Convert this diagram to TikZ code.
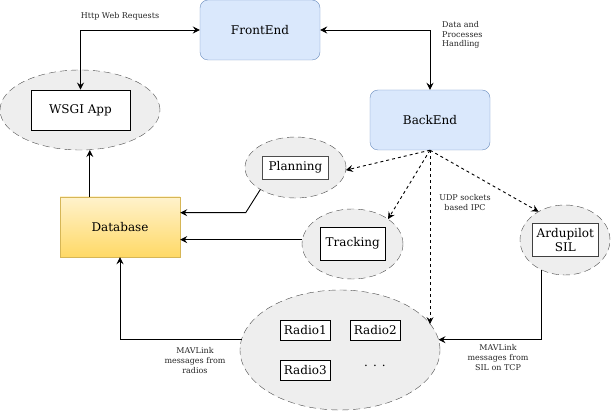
\documentclass[tikz,border=0pt]{standalone}
\usepackage{fontspec}
\setmainfont{DejaVu Serif}
\usetikzlibrary{arrows.meta,shapes.geometric,calc}
\definecolor{feFill}{HTML}{DAE8FC}
\definecolor{feDraw}{HTML}{6C8EBF}
\definecolor{dbTop}{HTML}{FFF2CC}
\definecolor{dbBot}{HTML}{FFD966}
\definecolor{dbDraw}{HTML}{D6B656}
\definecolor{ellFill}{HTML}{EEEEEE}
\definecolor{ellDraw}{HTML}{4D4D4D}
\tikzset{
  bigtxt/.style={font=\fontsize{12}{13.5}\selectfont},
  smalltxt/.style={font=\fontsize{8}{9.8}\selectfont, text=black!85, inner sep=0pt},
  bluebox/.style={draw=feDraw, fill=feFill, rounded corners=8pt, minimum width=120pt, minimum height=60pt, inner sep=0pt, bigtxt},
  ellnode/.style={ellipse, draw=ellDraw, fill=ellFill, dash pattern=on 7pt off 4pt, inner sep=0pt, outer sep=0pt},
  inbox/.style={draw=black, fill=white, line width=0.9pt, inner sep=0pt, bigtxt, align=center},
  arr/.style={draw=black, line width=0.9pt, -{Stealth[length=7pt,width=7pt,inset=2.5pt]}},
  biarr/.style={draw=black, line width=0.9pt, {Stealth[length=7pt,width=7pt,inset=2.5pt]}-{Stealth[length=7pt,width=7pt,inset=2.5pt]}},
  dasharr/.style={draw=black, line width=0.9pt, dash pattern=on 3pt off 3pt, -{Stealth[length=7pt,width=7pt,inset=2.5pt]}},
}
\begin{document}
\begin{tikzpicture}[x=1pt,y=-1pt]
\useasboundingbox (0,0) rectangle (611,411);

% main blocks
\node[bluebox] (fe) at (260,30) {FrontEnd};
\node[bluebox] (be) at (430,120) {BackEnd};
\node[draw=dbDraw, top color=dbTop, bottom color=dbBot, minimum width=120pt, minimum height=60pt, inner sep=0pt, bigtxt] (db) at (120,227) {Database};

% ellipses
\node[ellnode, minimum width=160pt, minimum height=80pt] (wsgi) at (80,110) {};
\node[inbox, minimum width=99pt, minimum height=40pt] (wsgibox) at (80.5,110) {WSGI App};

\node[ellnode, minimum width=101pt, minimum height=61pt] (plan) at (295.5,167.5) {};
\node[inbox, draw=black!70, minimum width=65.5pt, minimum height=23pt] (planbox) at (295.5,167.5) {Planning};

\node[ellnode, minimum width=101pt, minimum height=70pt] (trk) at (352.5,244) {};
\node[inbox, minimum width=65.5pt, minimum height=33pt] (trkbox) at (352.8,243.5) {Tracking};

\node[ellnode, minimum width=90pt, minimum height=70pt] (ard) at (565,240) {};
\node[inbox, draw=black!75, minimum width=65.3pt, minimum height=33.7pt] (ardbox) at (565.3,240) {Ardupilot\\SIL};

\node[ellnode, minimum width=200pt, minimum height=120pt] (radio) at (340,350) {};
\node[inbox, minimum width=50.7pt, minimum height=20.7pt] (r1) at (305.3,330.4) {Radio1};
\node[inbox, minimum width=50.7pt, minimum height=20.7pt] (r2) at (375.3,330.4) {Radio2};
\node[inbox, minimum width=50.7pt, minimum height=20.7pt] (r3) at (305.3,370.4) {Radio3};
\node[bigtxt, inner sep=0pt] (dots) at (375,366) {. . .};

% connectors
\draw[biarr] (wsgibox.north) |- (fe.west);
\draw[biarr] (fe.east) -| (be.north);
\draw[arr] (db.135) -- (db.135 |- wsgi.south);

\coordinate (pk) at (245.7,212.7);
\draw[arr] (plan.212) -- (pk) -- (pk -| db.east);
\draw[arr] (trk.175) -- (trk.175 -| db.east);
\draw[arr] (radio.174) -| (db.south);
\draw[arr] (ard.231) |- (radio.6);

\draw[dasharr] (be.south) -- (plan.357);
\draw[dasharr] (be.south) -- (trk.35);
\draw[dasharr] (be.south) -- (be.south |- radio.16);
\draw[dasharr] (be.south) -- (ard.133);

% labels
\node[smalltxt, align=center] (lblhttp) at (120,16) {Http Web Requests};
\node[smalltxt, align=left, anchor=north west] (lbldata) at (442,21) {Data and\\Processes\\Handling};
\node[smalltxt, align=center] (lbludp) at (465,202.5) {UDP sockets\\based IPC};
\node[smalltxt, align=center] (lblrad) at (195,360.5) {MAVLink\\messages from\\radios};
\node[smalltxt, align=center] (lblsil) at (498,357.7) {MAVLink\\messages from\\SIL on TCP};
\end{tikzpicture}
\end{document}
